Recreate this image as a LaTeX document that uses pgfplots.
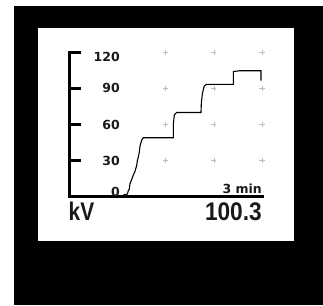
\documentclass[border=0pt]{standalone}
\usepackage{pgfplots}
\pgfplotsset{compat=1.18}
\usepackage{fontspec}
\setmainfont{Liberation Sans}
\newfontfamily\smallf{DejaVu Sans}
\definecolor{txt}{HTML}{1A1A1A}
\begin{document}
\begin{tikzpicture}[x=1pt,y=1pt]
\fill[white] (0,0) rectangle (323,305);
\fill[black] (14,0) rectangle (323,299);
\fill[white] (38.3,64.3) rectangle (294,276.7);
\begin{axis}[
  at={(69.5pt,108.3pt)}, anchor=south west,
  scale only axis, width=192.5pt, height=144.4pt,
  xmin=0, xmax=4, ymin=0, ymax=120,
  axis lines*=left,
  axis line style={line width=3pt, line cap=rect, black},
  xtick=\empty,
  ytick={0,30,60,90,120},
  yticklabels={\raisebox{4.3pt}[\height][\depth]{0},30,60,90,\raisebox{-4.4pt}[\height][\depth]{120}},
  tick align=inside,
  major tick length=11pt,
  ytick style={line width=3pt, black},
  yticklabel style={anchor=east, inner sep=0pt, xshift=50.5pt, font=\smallf\fontsize{12.5}{15}\selectfont\bfseries, text=txt},
]
\addplot[only marks, mark=+, mark size=2.6pt, color=gray!55, line width=0.6pt] coordinates {
(2,30)(3,30)(4,30)(2,60)(3,60)(4,60)(2,90)(3,90)(4,90)(2,120)(3,120)(4,120)};
\addplot[black, line width=1.1pt] coordinates {
(1.118,1.5)(1.20,2.2)(1.209,3)(1.222,5)(1.24,5.8)(1.257,11)(1.29,14)(1.326,18)(1.36,21)(1.396,26)(1.41,30)(1.430,33)(1.45,37)(1.465,42)(1.500,47)(1.533,49)
(2.157,49)(2.157,60)(2.178,68)(2.227,70)
(2.732,70)(2.740,78)(2.759,85)(2.78,89)(2.801,92)(2.851,93.4)
(3.404,93.4)(3.404,104)(3.543,104.7)(3.979,104.7)(3.979,96.4)};
\end{axis}
\node[anchor=base east, inner sep=0pt, font=\smallf\fontsize{12.5}{15}\selectfont\bfseries, text=txt] at (262,111) {3 min};
\node[anchor=base west, inner sep=0pt, font=\fontsize{25.5}{28}\selectfont\bfseries, text=txt] at (68.5,85) {\scalebox{0.82}[1]{kV}};
\node[anchor=base east, inner sep=0pt, font=\fontsize{25.5}{28}\selectfont\bfseries, text=txt] at (262,85) {\scalebox{0.89}[1]{100.3}};
\end{tikzpicture}
\end{document}
